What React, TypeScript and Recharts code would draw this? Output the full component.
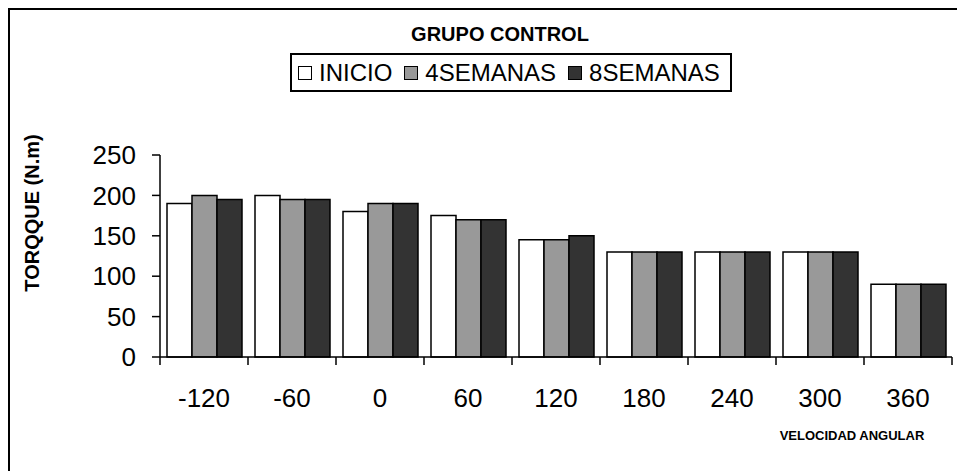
import React from 'react';
import { BarChart, Bar, XAxis, YAxis, Legend } from 'recharts';

const angles = ['-120', '-60', '0', '60', '120', '180', '240', '300', '360'];
const inicio = [190, 200, 180, 175, 145, 130, 130, 130, 90];
const semanas4 = [200, 195, 190, 170, 145, 130, 130, 130, 90];
const semanas8 = [195, 195, 190, 170, 150, 130, 130, 130, 90];
const yTicks = [0, 50, 100, 150, 200, 250];

const seriesInfo = [
  { key: 'inicio', name: 'INICIO', color: '#ffffff' },
  { key: 'sem4', name: '4SEMANAS', color: '#999999' },
  { key: 'sem8', name: '8SEMANAS', color: '#333333' },
];

const data = angles.map((a, i) => ({
  angle: a,
  inicio: inicio[i],
  sem4: semanas4[i],
  sem8: semanas8[i],
}));

const FONT = '"Liberation Sans", Arial, Helvetica, sans-serif';
const X_TICK_MARGIN = 32;
const X_TICK_LEN = 8;

const CategoryTick = (props: any) => {
  const { x, y, payload, index } = props;
  const half = payload && typeof payload.offset === 'number' ? payload.offset : 0;
  const axisY = y - X_TICK_MARGIN;
  const isLast = index === angles.length - 1;
  return (
    <g>
      <line x1={x - half} x2={x - half} y1={axisY} y2={axisY + X_TICK_LEN} stroke="#000" strokeWidth={1.5} />
      {isLast && (
        <line x1={x + half} x2={x + half} y1={axisY} y2={axisY + X_TICK_LEN} stroke="#000" strokeWidth={1.5} />
      )}
      <text x={x} y={y} dy="0.71em" textAnchor="middle" fontFamily={FONT} fontSize={26} fill="#000">
        {payload.value}
      </text>
    </g>
  );
};

const LegendBox = () => (
  <div
    style={{
      border: '2px solid #000',
      boxSizing: 'border-box',
      width: '100%',
      height: '100%',
      display: 'flex',
      alignItems: 'center',
      paddingLeft: 6,
      fontFamily: FONT,
      fontSize: 24,
      color: '#000',
      whiteSpace: 'nowrap',
    }}
  >
    {seriesInfo.map((s, i) => (
      <div key={s.key} style={{ display: 'flex', alignItems: 'center', marginRight: i < 2 ? 12 : 0 }}>
        <span
          style={{
            display: 'inline-block',
            width: 14,
            height: 14,
            boxSizing: 'border-box',
            border: '1.5px solid #000',
            background: s.color,
            marginRight: 7,
          }}
        />
        <span>{s.name}</span>
      </div>
    ))}
  </div>
);

export default function App() {
  return (
    <div
      style={{
        width: 957,
        height: 463,
        borderLeft: '2px solid #000',
        borderTop: '2px solid #000',
        boxSizing: 'border-box',
        position: 'relative',
      }}
    >
      <BarChart
        width={955}
        height={461}
        data={data}
        margin={{ top: 145, right: 13, bottom: 54, left: 90 }}
        barCategoryGap={7}
        barGap={0}
        style={{ fontFamily: FONT }}
      >
        <XAxis
          dataKey="angle"
          height={60}
          axisLine={{ stroke: '#000', strokeWidth: 1.5 }}
          tickLine={false}
          tickSize={0}
          tickMargin={X_TICK_MARGIN}
          interval={0}
          tick={CategoryTick}
          label={{
            content: () => (
              <g>
                <text
                  x={490}
                  y={31}
                  textAnchor="middle"
                  fontFamily={FONT}
                  fontSize={20}
                  fontWeight="bold"
                  fill="#000"
                >
                  GRUPO CONTROL
                </text>
                <text
                  x={842}
                  y={430}
                  textAnchor="middle"
                  fontFamily={FONT}
                  fontSize={13}
                  fontWeight="bold"
                  fill="#000"
                >
                  VELOCIDAD ANGULAR
                </text>
              </g>
            ),
          }}
        />
        <YAxis
          width={60}
          domain={[0, 250]}
          ticks={yTicks}
          interval={0}
          tickSize={8}
          tickMargin={16}
          axisLine={{ stroke: '#000', strokeWidth: 1.5 }}
          tickLine={{ stroke: '#000', strokeWidth: 1.5 }}
          tick={{ fontSize: 26, fill: '#000', fontFamily: FONT }}
          label={{
            content: () => (
              <text
                x={29}
                y={203}
                transform="rotate(-90, 29, 203)"
                textAnchor="middle"
                fontFamily={FONT}
                fontSize={20}
                fontWeight="bold"
                fill="#000"
              >
                TORQQUE (N.m)
              </text>
            ),
          }}
        />
        <Legend
          layout="horizontal"
          verticalAlign="middle"
          align="center"
          content={() => <LegendBox />}
          wrapperStyle={{ top: 43, left: 280, width: 442, height: 39 }}
        />
        {seriesInfo.map((s) => (
          <Bar
            key={s.key}
            dataKey={s.key}
            name={s.name}
            fill={s.color}
            stroke="#000"
            strokeWidth={1.5}
            isAnimationActive={false}
          />
        ))}
      </BarChart>
    </div>
  );
}
